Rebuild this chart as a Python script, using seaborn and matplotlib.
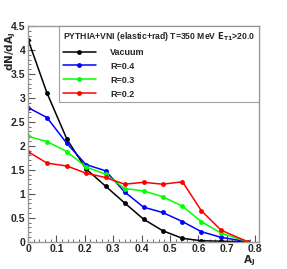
import pandas as pd
import numpy as np
import matplotlib.pyplot as plt
import seaborn as sns
from matplotlib.ticker import MultipleLocator

sns.set_style('white')
plt.rcParams['font.family'] = ['Liberation Sans', 'DejaVu Sans']
plt.rcParams['font.weight'] = 'bold'
plt.rcParams['mathtext.default'] = 'bf'

# A_J bin positions
aj = [0.0, 0.067, 0.137, 0.204, 0.273, 0.34, 0.407, 0.474, 0.544, 0.61, 0.68, 0.773]

vacuum = [4.22, 3.10, 2.14, 1.52, 1.16, 0.81, 0.47, 0.23, 0.07, 0.02, 0.01, 0.0]
r04 = [2.80, 2.59, 2.05, 1.61, 1.48, 1.04, 0.72, 0.61, 0.42, 0.21, 0.09, 0.0]
r03 = [2.20, 2.09, 1.88, 1.56, 1.41, 1.11, 1.06, 0.94, 0.74, 0.42, 0.18, 0.0]
r02 = [1.88, 1.64, 1.58, 1.43, 1.34, 1.20, 1.24, 1.20, 1.25, 0.65, 0.24, 0.0]

series = ['Vacuum', 'R=0.4', 'R=0.3', 'R=0.2']
colors = ['black', '#0000ff', '#00ff00', '#ff0000']

df = pd.concat([
    pd.DataFrame({'AJ': aj, 'val': v, 'set': s})
    for s, v in zip(series, [vacuum, r04, r03, r02])
])

fig = plt.figure(figsize=(2.87, 2.69), dpi=100)
ax = fig.add_axes([0.0976, 0.1015, 0.8044, 0.8015])

sns.lineplot(data=df, x='AJ', y='val', hue='set', palette=dict(zip(series, colors)),
             marker='o', markersize=3.5, markeredgewidth=0, linewidth=1.1,
             sort=False, ax=ax)

ax.set_xlim(0, 0.813)
ax.set_ylim(0, 4.5)
ax.xaxis.set_minor_locator(MultipleLocator(0.02))
ax.yaxis.set_minor_locator(MultipleLocator(0.1))
ax.set_xticks(np.arange(0, 0.81, 0.1))
ax.set_xticklabels(['0', '0.1', '0.2', '0.3', '0.4', '0.5', '0.6', '0.7', '0.8'])
ax.set_yticks(np.arange(0, 4.51, 0.5))
ax.set_yticklabels(['0', '0.5', '1', '1.5', '2', '2.5', '3', '3.5', '4', '4.5'])
ax.tick_params(axis='both', which='major', direction='in', length=5, width=0.8,
               labelsize=7.5, color='#555555', bottom=True, left=True, pad=2)
ax.tick_params(axis='both', which='minor', direction='in', length=2.5, width=0.6,
               color='#555555', bottom=True, left=True)
for sp in ax.spines.values():
    sp.set_color('#999999')
    sp.set_linewidth(1.0)

ax.set_xlabel('$A_{J}$', fontsize=7.5, loc='right')
ax.set_ylabel('$dN/dA_{J}$', fontsize=7.5, loc='top')
ax.xaxis.set_label_coords(0.985, -0.055)
ax.yaxis.set_label_coords(-0.045, 0.975)

handles, labels = ax.get_legend_handles_labels()
leg = ax.legend(handles, labels,
                title='PYTHIA+VNI (elastic+rad) T=350 MeV $E_{T1}$>20.0',
                loc='upper right', bbox_to_anchor=(1.0, 1.0), borderaxespad=0,
                frameon=True, fancybox=False, edgecolor='#888888',
                fontsize=6.5, title_fontsize=6.2, handlelength=3.6,
                handletextpad=1.6, labelspacing=0.55, borderpad=0.4,
                alignment='left')
leg.get_frame().set_linewidth(0.8)
for t in leg.get_texts():
    t.set_fontweight('bold')
leg.get_title().set_fontweight('bold')

fig.savefig('out.png', dpi=100)
